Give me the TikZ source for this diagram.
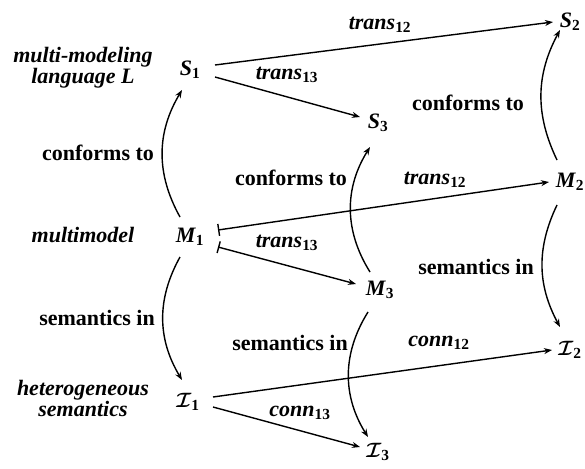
\documentclass[tikz,border=0pt]{standalone}
\usepackage{fontspec}
\setmainfont{Liberation Serif}
\usetikzlibrary{arrows.meta}
\newcommand\obj[2]{\textit{#1}\textsubscript{#2}}
\newcommand\cobj[1]{{\boldmath$\mathcal{I}$}\textsubscript{#1}}
\begin{document}
\begin{tikzpicture}[x=1pt,y=-1pt,
  every node/.style={font=\fontsize{22}{21}\selectfont\bfseries, inner sep=0pt},
  obnode/.style={},
  sidelab/.style={font=\fontsize{22}{21}\selectfont\bfseries\itshape, align=center},
  edgelab/.style={},
  arr/.style={line width=1.4pt, -{Stealth[length=8pt,width=6pt]}},
  tailarr/.style={line width=1.4pt, {Bar[width=12pt,line width=1.4pt]}-{Stealth[length=8pt,width=6pt]}}]
\useasboundingbox (0,0) rectangle (585,468);
% objects
\node[obnode] (S1) at (190,70) {\obj{S}{1}};
\node[obnode] (S2) at (570,22) {\obj{S}{2}};
\node[obnode] (S3) at (378,123) {\obj{S}{3}};
\node[obnode] (M1) at (190,237) {\obj{M}{1}};
\node[obnode] (M2) at (570,182) {\obj{M}{2}};
\node[obnode] (M3) at (380,290) {\obj{M}{3}};
\node[obnode] (I1) at (188,402) {\cobj{1}};
\node[obnode] (I2) at (570,350) {\cobj{2}};
\node[obnode] (I3) at (378,452) {\cobj{3}};
% side labels
\node[sidelab] (lang) at (83,68) {multi-modeling\\language \textit{L}};
\node[sidelab] (mm) at (83,235) {multimodel};
\node[sidelab] (het) at (83,398) {heterogeneous\\semantics};
% horizontal arrows
\draw[arr] ([shift={(25pt,5pt)}]S1.center) -- ([shift={(-17pt,0pt)}]S2.center);
\draw[arr] ([shift={(25pt,-7pt)}]S1.center) -- ([shift={(-18pt,6pt)}]S3.center);
\draw[tailarr] ([shift={(28pt,7pt)}]M1.center) -- ([shift={(-21pt,0pt)}]M2.center);
\draw[tailarr] ([shift={(28pt,-10pt)}]M1.center) -- ([shift={(-24pt,6pt)}]M3.center);
\draw[arr] ([shift={(25pt,5pt)}]I1.center) -- ([shift={(-18pt,0pt)}]I2.center);
\draw[arr] ([shift={(25pt,-5pt)}]I1.center) -- ([shift={(-18pt,5pt)}]I3.center);
% arcs
\draw[arr] ([shift={(-10pt,20pt)}]M1.center) to[bend left=30] ([shift={(-8pt,-20pt)}]S1.center);
\draw[arr] ([shift={(-10pt,-20pt)}]M1.center) to[bend right=30] ([shift={(-6pt,22pt)}]I1.center);
\draw[arr] ([shift={(-10pt,18pt)}]M3.center) to[bend left=32] ([shift={(-8pt,-24pt)}]S3.center);
\draw[arr] ([shift={(-12pt,-22pt)}]M3.center) to[bend right=32] ([shift={(-10pt,15pt)}]I3.center);
\draw[arr] ([shift={(-13pt,22pt)}]M2.center) to[bend left=27] ([shift={(-10pt,-8pt)}]S2.center);
\draw[arr] ([shift={(-13pt,-23pt)}]M2.center) to[bend right=27] ([shift={(-10pt,23pt)}]I2.center);
% edge labels
\node (c1) at (98,153) {conforms to};
\node (c3) at (291,178) {conforms to};
\node (c2) at (468,103) {conforms to};
\node (s1) at (97,318) {semantics in};
\node (s3) at (290,343) {semantics in};
\node (s2) at (476,267) {semantics in};
\node (t12a) at (380,25) {\obj{trans}{12}};
\node (t13a) at (287,75) {\obj{trans}{13}};
\node (t12b) at (435,180) {\obj{trans}{12}};
\node (t13b) at (287,243) {\obj{trans}{13}};
\node (c12) at (439,343) {\obj{conn}{12}};
\node (c13) at (300,413) {\obj{conn}{13}};
\end{tikzpicture}
\end{document}
